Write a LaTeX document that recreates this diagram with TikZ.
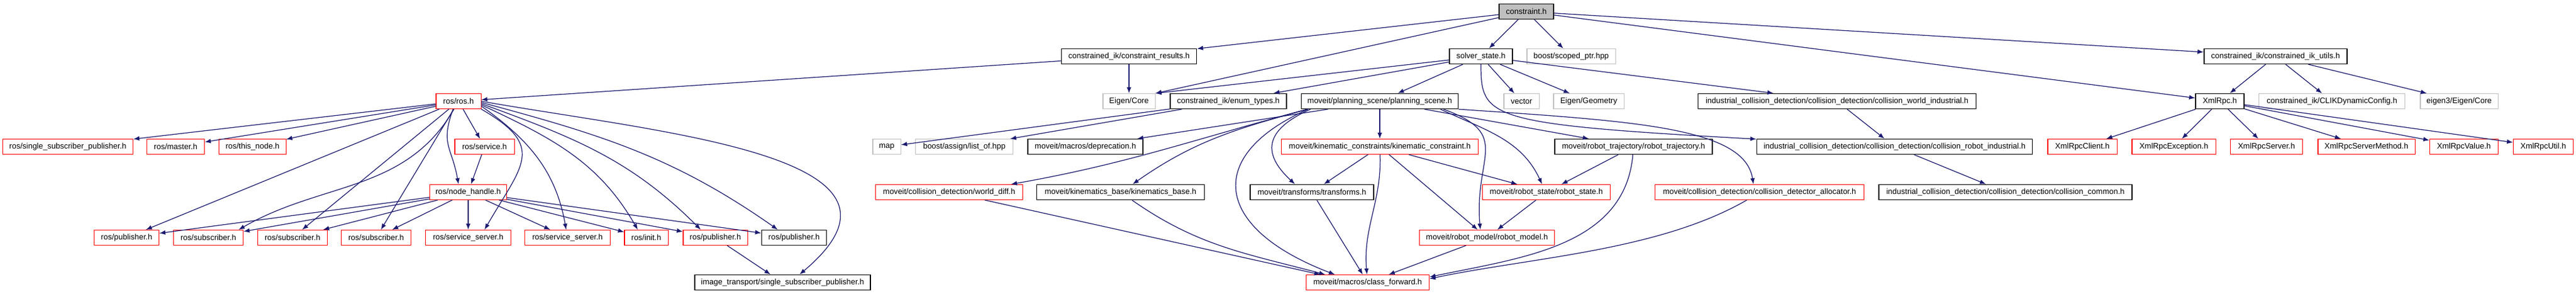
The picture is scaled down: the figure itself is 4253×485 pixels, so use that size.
\documentclass[tikz,border=0pt]{standalone}
\usepackage{fontspec}
\setmainfont{Liberation Sans}
\usepackage{xcolor}
\usetikzlibrary{arrows.meta}
\definecolor{edgeblue}{RGB}{25,25,112}
\definecolor{grey75}{RGB}{191,191,191}
\tikzset{
    >={Latex[length=1mm, width=0.75mm]},
    file/.style={draw, rectangle, inner sep=0pt, minimum height=2.5mm,
        line width=0.3pt, font=\fontsize{3.7pt}{4.4pt}\selectfont},
    docfile/.style={file, draw=black, line width=0.4pt},
    redfile/.style={file, draw=red},
    extfile/.style={file, draw=grey75},
    mainfile/.style={docfile, fill=grey75},
    incl/.style={->, edgeblue, line width=0.35pt},
}
\begin{document}
\begin{tikzpicture}[x=0.01cm, y=0.01cm]
        \useasboundingbox (0,0) rectangle (4253,485);
        % levels 0 and 1
        \node[mainfile, minimum width=0.90cm] (main) at (2520,466) {constraint.h};
        \node[docfile, minimum width=2.23cm] (cres) at (1864,392) {constrained\_ik/constraint\_results.h};
        \node[docfile, minimum width=1.04cm] (solver) at (2445,392) {solver\_state.h};
        \node[extfile, minimum width=1.46cm] (scoped) at (2594,392) {boost/scoped\_ptr.hpp};
        \node[docfile, minimum width=2.36cm] (ikutils) at (3757,392) {constrained\_ik/constrained\_ik\_utils.h};
        % level 2
        \node[redfile, minimum width=0.74cm] (ros) at (757,318) {ros/ros.h};
        \node[extfile, minimum width=0.86cm] (eigen) at (1864,318) {Eigen/Core};
        \node[docfile, minimum width=1.92cm] (enums) at (2028,318) {constrained\_ik/enum\_types.h};
        \node[docfile, minimum width=2.59cm] (pscene) at (2278,318) {moveit/planning\_scene/planning\_scene.h};
        \node[extfile, minimum width=0.58cm] (vector) at (2512,318) {vector};
        \node[extfile, minimum width=1.16cm] (geom) at (2623,318) {Eigen/Geometry};
        \node[docfile, minimum width=4.59cm] (cworld) at (3033,318) {industrial\_collision\_detection/collision\_detection/collision\_world\_industrial.h};
        \node[docfile, minimum width=0.80cm] (xmlrpc) at (3665,318) {XmlRpc.h};
        \node[extfile, minimum width=2.41cm] (clik) at (3850,318) {constrained\_ik/CLIKDynamicConfig.h};
        \node[extfile, minimum width=1.28cm] (eigen3) at (4060,318) {eigen3/Eigen/Core};
        % level 3
        \node[redfile, minimum width=2.15cm] (sspub) at (112,243) {ros/single\_subscriber\_publisher.h};
        \node[redfile, minimum width=0.95cm] (master) at (290,243) {ros/master.h};
        \node[redfile, minimum width=1.10cm] (thisnode) at (417,243) {ros/this\_node.h};
        \node[redfile, minimum width=0.98cm] (service) at (800,243) {ros/service.h};
        \node[extfile, minimum width=0.46cm] (map) at (1464,243) {map};
        \node[extfile, minimum width=1.60cm] (listof) at (1592,243) {boost/assign/list\_of.hpp};
        \node[docfile, minimum width=1.90cm] (deprec) at (1792,243) {moveit/macros/deprecation.h};
        \node[redfile, minimum width=3.25cm] (kincon) at (2278,243) {moveit/kinematic\_constraints/kinematic\_constraint.h};
        \node[docfile, minimum width=2.60cm] (rtraj) at (2697,243) {moveit/robot\_trajectory/robot\_trajectory.h};
        \node[docfile, minimum width=4.55cm] (crobot) at (3128,243) {industrial\_collision\_detection/collision\_detection/collision\_robot\_industrial.h};
        \node[redfile, minimum width=1.14cm] (xclient) at (3438,243) {XmlRpcClient.h};
        \node[redfile, minimum width=1.38cm] (xexc) at (3589,243) {XmlRpcException.h};
        \node[redfile, minimum width=1.19cm] (xserver) at (3742,243) {XmlRpcServer.h};
        \node[redfile, minimum width=1.60cm] (xmethod) at (3907,243) {XmlRpcServerMethod.h};
        \node[redfile, minimum width=1.13cm] (xvalue) at (4068,243) {XmlRpcValue.h};
        \node[redfile, minimum width=0.99cm] (xutil) at (4199,243) {XmlRpcUtil.h};
        % level 4
        \node[redfile, minimum width=1.27cm] (nh) at (773,168) {ros/node\_handle.h};
        \node[redfile, minimum width=2.43cm] (wdiff) at (1567,168) {moveit/collision\_detection/world\_diff.h};
        \node[docfile, minimum width=2.77cm] (kinbase) at (1850,168) {moveit/kinematics\_base/kinematics\_base.h};
        \node[docfile, minimum width=2.04cm] (transf) at (2166,168) {moveit/transforms/transforms.h};
        \node[redfile, minimum width=2.10cm] (rstate) at (2553,168) {moveit/robot\_state/robot\_state.h};
        \node[redfile, minimum width=3.44cm] (cdalloc) at (2905,168) {moveit/collision\_detection/collision\_detector\_allocator.h};
        \node[docfile, minimum width=4.18cm] (ccommon) at (3311,168) {industrial\_collision\_detection/collision\_detection/collision\_common.h};
        % level 5
        \node[redfile, minimum width=1.07cm] (pubA) at (209,93) {ros/publisher.h};
        \node[redfile, minimum width=1.15cm] (subA) at (344,93) {ros/subscriber.h};
        \node[redfile, minimum width=1.15cm] (subB) at (483,93) {ros/subscriber.h};
        \node[redfile, minimum width=1.15cm] (subC) at (621,93) {ros/subscriber.h};
        \node[redfile, minimum width=1.40cm] (ssrvA) at (773,93) {ros/service\_server.h};
        \node[redfile, minimum width=1.40cm] (ssrvB) at (937,93) {ros/service\_server.h};
        \node[redfile, minimum width=0.72cm] (init) at (1067,93) {ros/init.h};
        \node[redfile, minimum width=1.06cm] (pubB) at (1181,93) {ros/publisher.h};
        \node[docfile, minimum width=1.07cm] (pubC) at (1311,93) {ros/publisher.h};
        \node[redfile, minimum width=2.22cm] (rmodel) at (2455,93) {moveit/robot\_model/robot\_model.h};
        % level 6
        \node[docfile, minimum width=2.90cm] (itssp) at (1292,19) {image\_transport/single\_subscriber\_publisher.h};
        \node[redfile, minimum width=2.03cm] (cfwd) at (2258,19) {moveit/macros/class\_forward.h};

        % constraint.h and its direct includes
        \foreach \n in {cres,solver,scoped,ikutils,xmlrpc} \draw[incl] (main) -- (\n);
        \draw[incl] (main) -- (eigen.north east);
        \draw[incl] (cres) -- (ros);
        \draw[incl] (cres) -- (eigen);
        \draw[incl] (solver) -- (eigen.north east);
        \foreach \n in {enums,pscene,vector,geom,cworld} \draw[incl] (solver) -- (\n);
        \draw[incl] (solver) .. controls (2445,290) and (2455,280) .. (crobot);
        \foreach \n in {map,listof} \draw[incl] (enums) -- (\n);
        \draw[incl] (cworld) -- (crobot);
        \draw[incl] (crobot) -- (ccommon);
        \foreach \n in {xmlrpc,clik,eigen3} \draw[incl] (ikutils) -- (\n);
        \foreach \n in {xclient,xexc,xserver,xmethod,xvalue,xutil} \draw[incl] (xmlrpc) -- (\n);

        % planning scene
        \foreach \n in {deprec,kincon,rtraj} \draw[incl] (pscene) -- (\n);
        \draw[incl] ([xshift=1mm]pscene.south west) to[out=195, in=10] ([xshift=-2mm]wdiff.north east);
        \draw[incl] ([xshift=1.2mm]pscene.south west) to[out=195, in=35] ([xshift=2mm]kinbase.north);
        \draw[incl] ([xshift=1.6mm]pscene.south west) .. controls (2085,270) and (2085,230) .. ([xshift=-2.8mm]transf.north);
        \draw[incl] ([xshift=1.2mm]pscene.south west) .. controls (1990,230) and (2000,110) .. ([xshift=-5.4mm]cfwd.north);
        \draw[incl] ([xshift=-3mm]pscene.south east) to[out=-25, in=115] ([xshift=-0.7mm]rstate.north);
        \draw[incl] ([xshift=-2.5mm]pscene.south east) to[out=-20, in=95, looseness=1.5] ([xshift=-1.1mm]rmodel.north);
        \draw[incl] (pscene.south east) .. controls (2700,285) and (2880,275) .. ([xshift=-1mm]cdalloc.north);
        \foreach \n in {transf,rstate,rmodel} \draw[incl] (kincon) -- (\n);
        \draw[incl] (kincon) to[out=-88, in=95] (cfwd);
        \draw[incl] (rtraj) -- (rstate);
        \draw[incl] (rtraj) to[out=-95, in=12] ([yshift=0.9mm]cfwd.east);
        \draw[incl] ([xshift=-2.1mm]cdalloc.south) to[out=-150, in=12, looseness=0.8] ([yshift=0.6mm]cfwd.east);
        \draw[incl] (rstate) -- (rmodel);
        \draw[incl] (rmodel) -- (cfwd);
        \draw[incl] (transf) -- (cfwd);
        \draw[incl] (wdiff) -- ([xshift=-7.8mm]cfwd.north);
        \draw[incl] ([xshift=1.9mm]kinbase.south) to[out=-35, in=165] ([xshift=-7mm]cfwd.north);

        % ros
        \foreach \n in {sspub,master,thisnode,service,pubA,subB,subC} \draw[incl] (ros) -- (\n);
        \draw[incl] ([xshift=-0.9mm]ros.south) to[out=-110, in=100, looseness=1.3] ([xshift=-1.6mm]nh.north);
        \draw[incl] (ros) to[out=-120, in=30] ([xshift=5mm]subA.north);
        \draw[incl] (ros.south east) to[out=-30, in=60, looseness=1.6] ([xshift=2.7mm]ssrvA.north);
        \draw[incl] ([yshift=-0.8mm]ros.east) to[out=-35, in=100] (ssrvB);
        \draw[incl] ([yshift=-0.6mm]ros.east) to[out=-25, in=120] ([xshift=-1.4mm]init.north);
        \draw[incl] ([yshift=-0.4mm]ros.east) to[out=-20, in=135] ([xshift=-2.4mm]pubB.north);
        \draw[incl] ([yshift=-0.2mm]ros.east) to[out=-15, in=145] ([xshift=-2.7mm]pubC.north);
        \draw[incl] (ros.east) to[out=-10, in=40, looseness=1.3] ([xshift=2.8mm]itssp.north);
        \draw[incl] (service) -- (nh);
        \foreach \n in {pubA,subA,subB,subC,ssrvA,ssrvB,init,pubB,pubC} \draw[incl] (nh) -- (\n);
        \draw[incl] (pubB) -- (itssp);
\end{tikzpicture}
\end{document}
